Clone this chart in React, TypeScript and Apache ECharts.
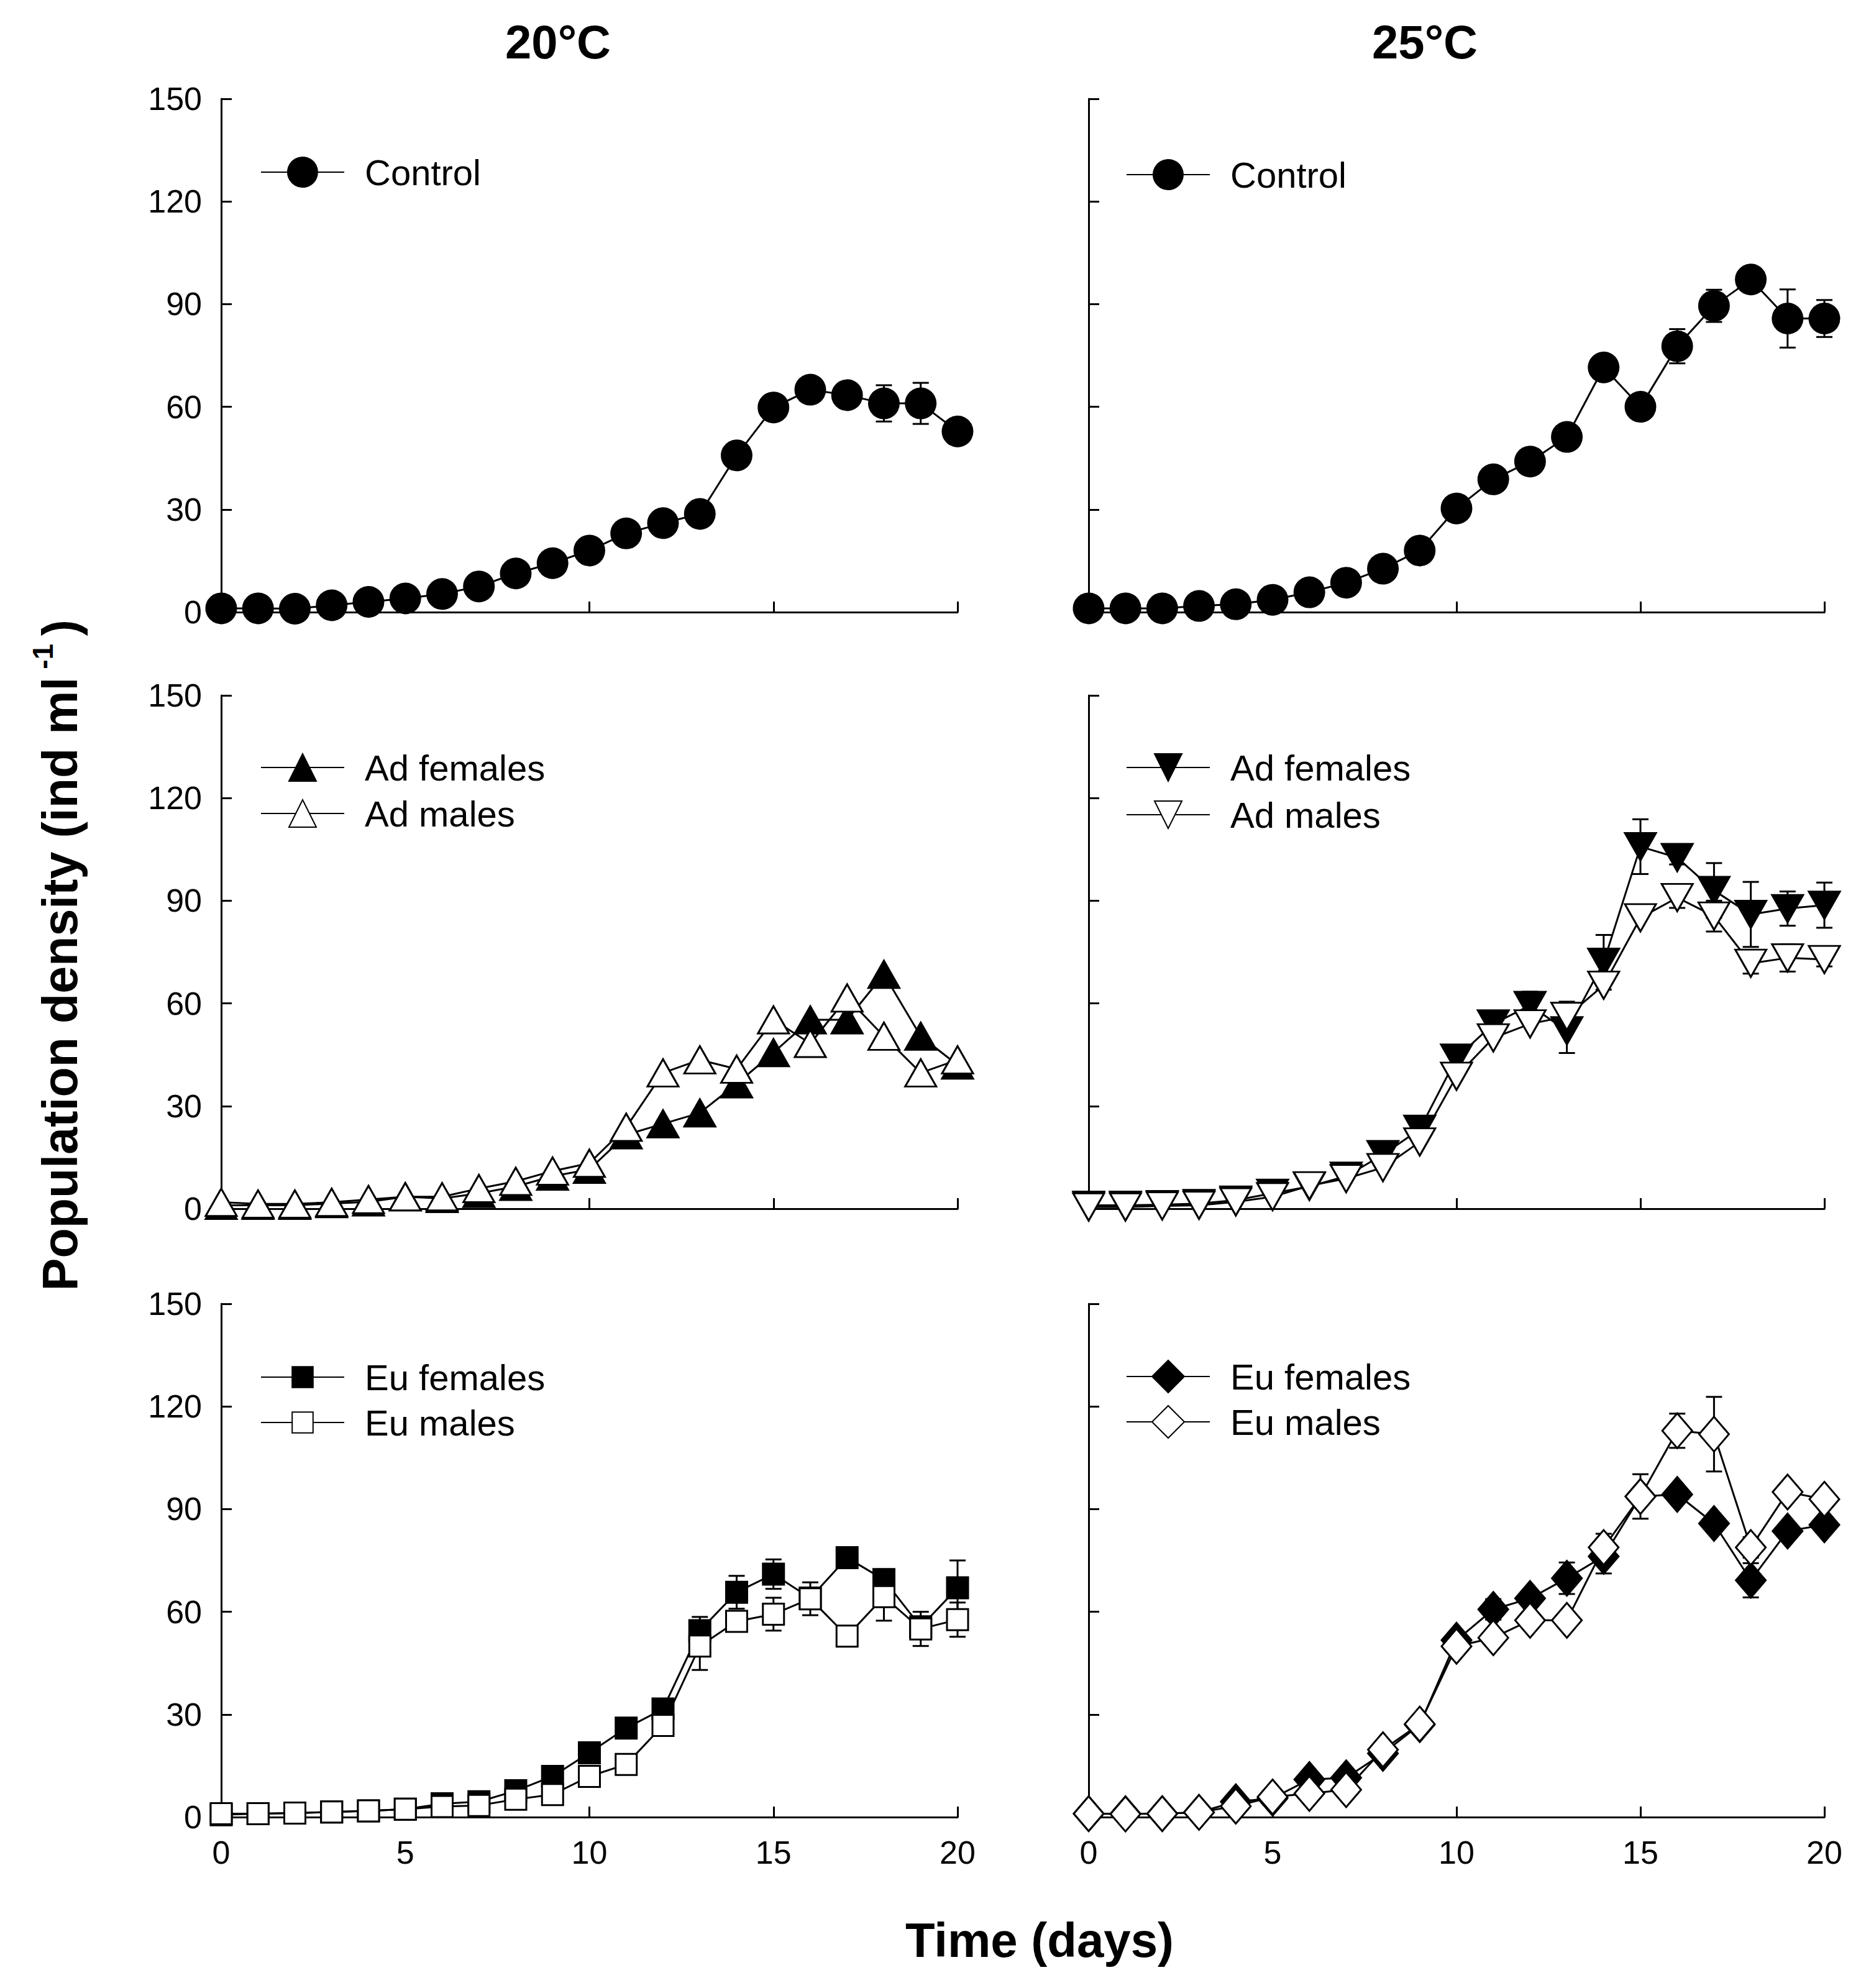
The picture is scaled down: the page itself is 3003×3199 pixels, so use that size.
import React, { useEffect, useRef } from "react";
import * as echarts from "echarts";

const days = [0,1,2,3,4,5,6,7,8,9,10,11,12,13,14,15,16,17,18,19,20];
const yTicks = [0, 30, 60, 90, 120, 150];
const xTicks = [0, 5, 10, 15, 20];
const panelTitles = ["20°C", "25°C"];

const ctrl20 = [1.1,1.1,1,2,3,4,5.3,7.5,11.3,14.3,18,23,26,28.7,45.8,59.8,65,63.4,61,61,52.8];
const ctrl20Err = [0,0,0,0,0,0,0,0,0,0,0,0,0,0,0,0,0,0,5.3,6,0];
const ctrl25 = [1.1,1.1,1.1,1.8,2.3,3.6,5.8,8.6,12.7,18,30.3,38.8,44,51.2,71.5,60,77.7,89.5,97.2,85.8,85.8];
const ctrl25Err = [0,0,0,0,0,0,0,0,0,0,0,0,0,0,0,0,5,4.7,0,8.5,5.4];

const adF20 = [1,1,1,1.5,2,3.5,3,4.5,6.5,9.5,11.5,21.6,24.8,28,36.5,45.6,55.2,55.2,68.5,50.4,42];
const adF20Err = [0,0,0,0,0,0,0,0,0,0,0,0,0,0,0,0,0,0,0,0,0];
const adM20 = [1.9,1.4,1.4,1.9,2.7,3.5,3.5,5.9,8,11,13.3,23.8,39.7,43.5,40.8,55.2,48.3,61.6,50.4,39.7,43.5];
const adM20Err = [0,0,0,0,0,0,0,0,0,0,0,0,0,0,0,0,0,0,0,0,0];

const adF25 = [1,1,1.2,1.5,2.5,4.5,6.5,9.5,15.8,23.2,44,54,59.4,52,72,105.8,102.6,93,86,87.7,88.7];
const adF25Err = [0,0,0,0,0,0,0,0,0,0,0,0,4,6.5,8,8,2,8,9.5,5,6.6];
const adM25 = [0.5,0.5,0.8,1,2,3.5,6.7,8.8,12,19.5,38.7,49.9,54,56.2,65.3,85,90.9,85.5,71.7,73.3,72.8];
const adM25Err = [0,0,0,0,0,0,0,0,0,0,0,0,0,4.3,0,0,3,4.5,3,4,2];

const euF20 = [0.7,1,1.2,1.5,1.8,2.3,3.9,4.5,7.7,11.9,18.8,26,31.6,54.5,65.7,71,64,75.8,69.4,55.6,67];
const euF20Err = [0,0,0,0,0,0,0,0,0,0,0,0,0,4,4.8,4.3,2,0,3,2,8];
const euM20 = [1,1,1.2,1.5,1.8,2.3,3.1,3.4,5.2,6.6,11.9,15.4,26.8,50,57.2,59.3,63.8,52.9,64.4,55,57.7];
const euM20Err = [0,0,0,0,0,0,0,0,0,0,0,0,0,7,0,4.8,4.8,0,7,5,5];

const euF25 = [1,1,1,1.4,4.5,5.5,11,11.5,18.6,27,51.7,60.7,63.9,69.8,76.2,93.7,94.3,85.8,69.2,83.6,85.4];
const euF25Err = [0,0,0,0,0,0,0,0,0,0,0,3,0,4.6,5,0,0,0,5,0,0];
const euM25 = [1,0.9,1,1.4,3.2,5.9,6.9,8,19.7,27.2,49.9,52.4,57.5,57.5,78.8,93.7,112.9,111.9,78.8,95,92.9];
const euM25Err = [0,0,0,0,0,0,0,0,0,0,0,0,0,0,4,6.5,5,10.9,3,0,2];

const FONT = "'Liberation Sans', Arial, Helvetica, sans-serif";
const DOWN_TRI = "path://M0,0L2,0L1,2Z";

type Spec = {
  name: string;
  label: string;
  grid: number;
  values: number[];
  errs: number[];
  symbol: string;
  size: number | number[];
  filled: boolean;
};

const specs: Spec[] = [
  { name: "Control@20", label: "Control", grid: 0, values: ctrl20, errs: ctrl20Err, symbol: "circle", size: 48, filled: true },
  { name: "Control@25", label: "Control", grid: 1, values: ctrl25, errs: ctrl25Err, symbol: "circle", size: 48, filled: true },
  { name: "Ad females@20", label: "Ad females", grid: 2, values: adF20, errs: adF20Err, symbol: "triangle", size: [50, 44], filled: true },
  { name: "Ad males@20", label: "Ad males", grid: 2, values: adM20, errs: adM20Err, symbol: "triangle", size: [50, 44], filled: false },
  { name: "Ad females@25", label: "Ad females", grid: 3, values: adF25, errs: adF25Err, symbol: DOWN_TRI, size: [50, 44], filled: true },
  { name: "Ad males@25", label: "Ad males", grid: 3, values: adM25, errs: adM25Err, symbol: DOWN_TRI, size: [50, 44], filled: false },
  { name: "Eu females@20", label: "Eu females", grid: 4, values: euF20, errs: euF20Err, symbol: "rect", size: 34, filled: true },
  { name: "Eu males@20", label: "Eu males", grid: 4, values: euM20, errs: euM20Err, symbol: "rect", size: 34, filled: false },
  { name: "Eu females@25", label: "Eu females", grid: 5, values: euF25, errs: euF25Err, symbol: "diamond", size: [48, 56], filled: true },
  { name: "Eu males@25", label: "Eu males", grid: 5, values: euM25, errs: euM25Err, symbol: "diamond", size: [48, 56], filled: false },
];

const colLeft = [356, 1752];
const colWidth = [1185, 1184];
const rowTop = [159, 1119, 2098];
const rowHeight = 826;

export default function App() {
  const ref = useRef<HTMLDivElement>(null);
  useEffect(() => {
    document.body.style.margin = "0";
    if (!ref.current) return;
    const chart = echarts.init(ref.current, undefined, { renderer: "svg" });

    const grids: any[] = [];
    const xAxes: any[] = [];
    const yAxes: any[] = [];
    for (let r = 0; r < 3; r++) {
      for (let c = 0; c < 2; c++) {
        const idx = r * 2 + c;
        grids.push({ left: colLeft[c], top: rowTop[r], width: colWidth[c], height: rowHeight, containLabel: false });
        xAxes.push({
          type: "value", gridIndex: idx, min: 0, max: 20, interval: 5,
          axisLine: { show: true, onZero: false, lineStyle: { color: "#000", width: 3 } },
          axisTick: { show: true, inside: true, length: 17, lineStyle: { color: "#000", width: 3 } },
          axisLabel: { show: r === 2, color: "#000", fontSize: 52, fontFamily: FONT, margin: 31,
            formatter: (v: number) => (xTicks.includes(v) ? String(v) : "") },
          splitLine: { show: false },
        });
        yAxes.push({
          type: "value", gridIndex: idx, min: 0, max: 150, interval: 30,
          axisLine: { show: true, onZero: false, lineStyle: { color: "#000", width: 3 } },
          axisTick: { show: true, inside: true, length: 17, lineStyle: { color: "#000", width: 3 } },
          axisLabel: { show: c === 0, color: "#000", fontSize: 52, fontFamily: FONT, margin: 31,
            formatter: (v: number) => (yTicks.includes(v) ? String(v) : "") },
          splitLine: { show: false },
        });
      }
    }

    const series: any[] = [];
    specs.forEach((s) => {
      const errData = days
        .map((d, i) => [d, s.values[i], s.errs[i]])
        .filter((p) => p[2] > 0);
      series.push({
        type: "custom",
        name: s.name + "#err",
        xAxisIndex: s.grid, yAxisIndex: s.grid,
        data: errData,
        encode: { x: 0, y: 1 },
        z: 1,
        silent: true,
        renderItem: (params: any, api: any) => {
          const x = api.value(0), y = api.value(1), e = api.value(2);
          const top = api.coord([x, y + e]);
          const bot = api.coord([x, y - e]);
          const w = 13;
          const st = { stroke: "#000", lineWidth: 3 };
          return {
            type: "group",
            children: [
              { type: "line", shape: { x1: top[0], y1: top[1], x2: bot[0], y2: bot[1] }, style: st },
              { type: "line", shape: { x1: top[0] - w, y1: top[1], x2: top[0] + w, y2: top[1] }, style: st },
              { type: "line", shape: { x1: bot[0] - w, y1: bot[1], x2: bot[0] + w, y2: bot[1] }, style: st },
            ],
          };
        },
      });
    });
    specs.forEach((s) => {
      series.push({
        type: "line",
        name: s.name,
        xAxisIndex: s.grid, yAxisIndex: s.grid,
        data: days.map((d, i) => [d, s.values[i]]),
        symbol: s.symbol,
        symbolSize: s.size,
        showSymbol: true,
        showAllSymbol: true,
        clip: false,
        z: 2,
        silent: true,
        lineStyle: { color: "#000", width: 3 },
        itemStyle: { color: s.filled ? "#000" : "#fff", borderColor: "#000", borderWidth: 3, opacity: 1 },
        emphasis: { disabled: true },
      });
    });

    const labelOf = (name: string) => name.split("@")[0];
    const mkLegend = (names: string[], left: number, top: number, itemHeight: number, gap: number) => ({
      show: true,
      orient: "vertical",
      left, top,
      padding: 0,
      itemWidth: 134,
      itemHeight,
      itemGap: gap,
      selectedMode: false,
      data: names,
      formatter: labelOf,
      textStyle: { color: "#000", fontSize: 58, fontFamily: FONT, padding: [0, 0, 0, 28] },
    });

    const legends = [
      mkLegend(["Control@20"], 419, 248, 60, 12),
      mkLegend(["Control@25"], 1812, 252, 60, 12),
      mkLegend(["Ad females@20", "Ad males@20"], 419, 1206, 55, 16),
      mkLegend(["Ad females@25", "Ad males@25"], 1812, 1206, 55, 18),
      mkLegend(["Eu females@20", "Eu males@20"], 419, 2187, 42, 15),
      mkLegend(["Eu females@25", "Eu males@25"], 1812, 2186, 65, 15),
    ];

    const option: any = {
      animation: false,
      backgroundColor: "#fff",
      grid: grids,
      xAxis: xAxes,
      yAxis: yAxes,
      legend: legends,
      series,
      graphic: [
        { type: "text", x: 898, y: 67, style: { text: panelTitles[0], font: `bold 76px ${FONT}`, fill: "#000", textAlign: "center", textVerticalAlign: "middle" } },
        { type: "text", x: 2293, y: 67, style: { text: panelTitles[1], font: `bold 76px ${FONT}`, fill: "#000", textAlign: "center", textVerticalAlign: "middle" } },
        { type: "text", x: 1673, y: 3122, style: { text: "Time (days)", font: `bold 78px ${FONT}`, fill: "#000", textAlign: "center", textVerticalAlign: "middle" } },
        {
          type: "text", x: 96, y: 1537, rotation: Math.PI / 2,
          style: {
            text: "{a|Population density (ind ml}{s| -1 }{a|)}",
            textAlign: "center", textVerticalAlign: "middle", fill: "#000",
            rich: {
              a: { fontSize: 79, fontWeight: "bold", fontFamily: FONT, lineHeight: 100, fill: "#000" },
              s: { fontSize: 46, fontWeight: "bold", fontFamily: FONT, lineHeight: 46, verticalAlign: "top", fill: "#000" },
            },
          },
        },
      ],
    };
    chart.setOption(option);
    return () => chart.dispose();
  }, []);
  return <div ref={ref} style={{ width: 3003, height: 3199 }} />;
}
